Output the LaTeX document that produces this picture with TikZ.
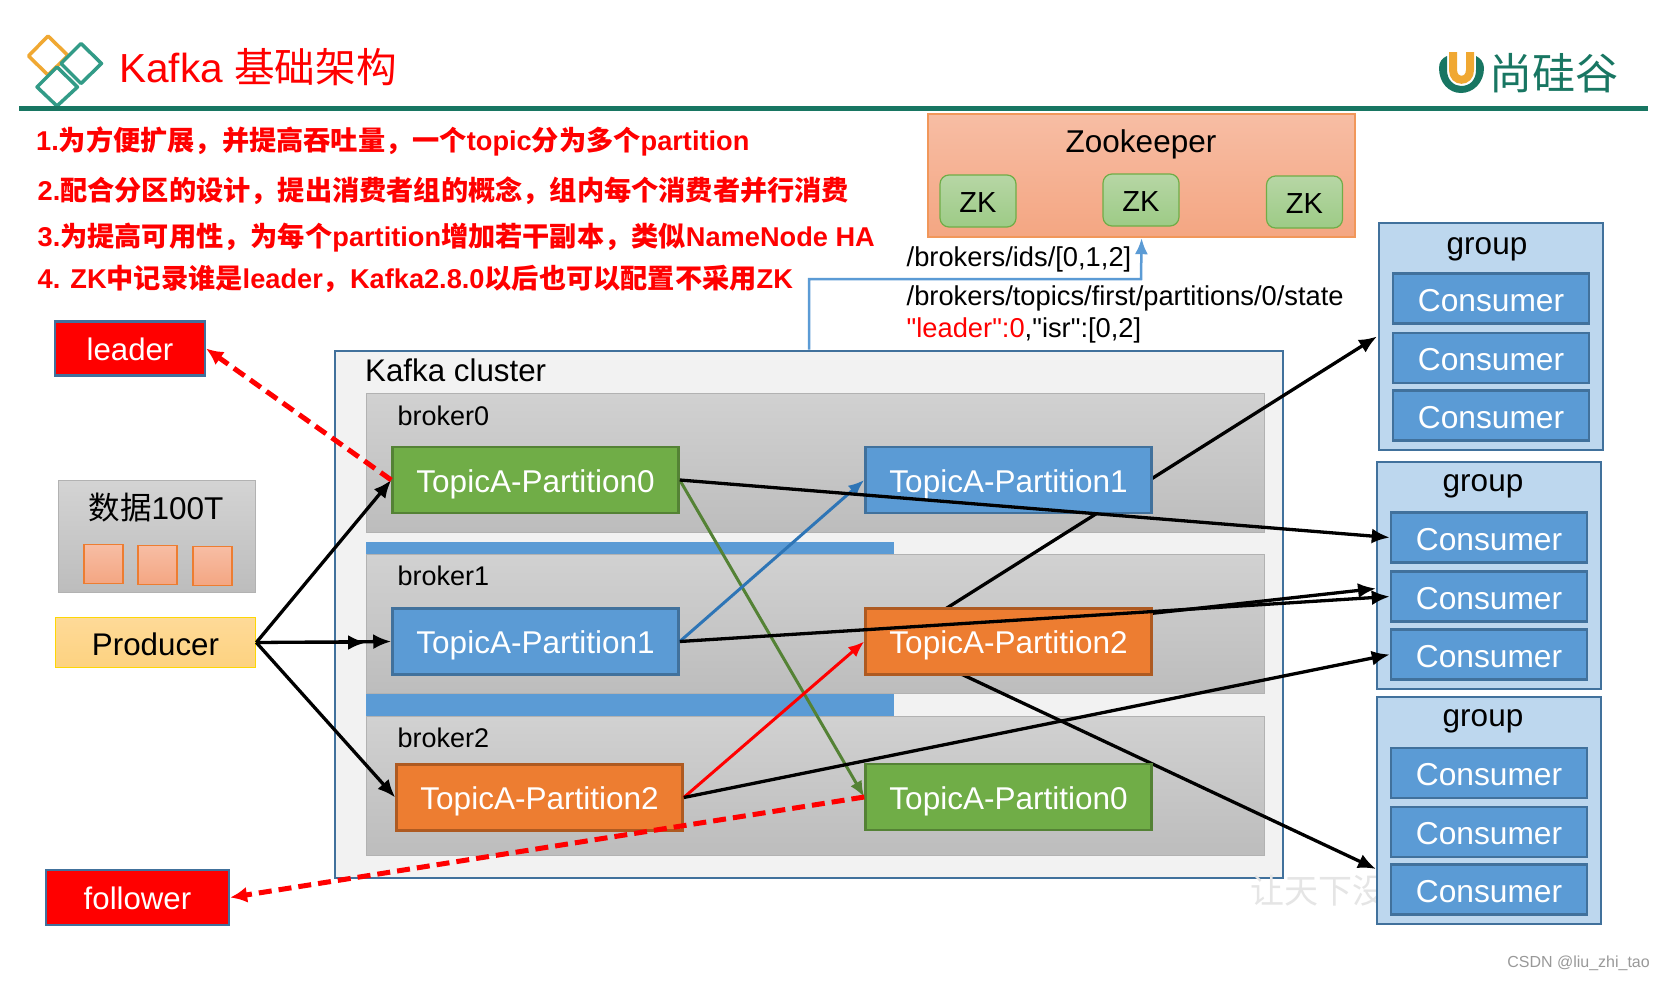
\documentclass[tikz,border=0pt]{standalone}
\usepackage{fontspec}
\setmainfont{Liberation Sans}
\newfontfamily\rawfont{Liberation Sans}
\newfontfamily\cjk{Noto Sans CJK SC}
\usetikzlibrary{arrows.meta}
\definecolor{headgreen}{RGB}{24,118,98}
\definecolor{tealdia}{RGB}{50,155,135}
\definecolor{golddia}{RGB}{240,168,50}
\definecolor{edgeblue}{RGB}{65,113,156}
\definecolor{fillblue}{RGB}{91,155,213}
\definecolor{paleblue}{RGB}{189,215,238}
\definecolor{fillgreen}{RGB}{112,173,71}
\definecolor{edgegreen}{RGB}{84,130,53}
\definecolor{fillorange}{RGB}{237,125,49}
\definecolor{edgeorange}{RGB}{174,90,33}
\definecolor{zklight}{RGB}{183,214,165}
\definecolor{zkdark}{RGB}{157,203,134}
\definecolor{salmonlight}{RGB}{247,189,164}
\definecolor{salmondark}{RGB}{244,166,130}
\definecolor{prodlight}{RGB}{254,218,152}
\definecolor{proddark}{RGB}{253,210,128}
\definecolor{arrowblue}{RGB}{46,117,182}
\newcommand{\fs}[1]{\fontsize{#1}{#1}\selectfont}
\newcommand{\zh}[1]{{\cjk #1}}
\tikzset{
  box/.style={draw,rectangle,anchor=north west,inner sep=0pt,line width=2.2pt},
  part/.style={draw,rectangle,line width=2.5pt,inner sep=0pt,text=white,font=\fs{31.5},minimum width=286pt,minimum height=66pt,text height=24pt,text depth=0pt},
  cons/.style={draw=edgeblue,fill=fillblue,rectangle,line width=2.5pt,inner sep=0pt,text=white,font=\fs{31.7},minimum width=196pt,minimum height=50pt,text height=25.5pt,text depth=0pt},
  tag/.style={draw=edgeblue,fill=red,rectangle,line width=2.2pt,inner sep=0pt,text=white,font=\fs{31.2},text height=24pt,text depth=0pt},
  grp/.style={draw=edgeblue,fill=paleblue,rectangle,anchor=north west,line width=2.2pt,inner sep=0pt,minimum width=224pt,minimum height=227pt},
  grplab/.style={font=\fs{31.5}},
  brk/.style={draw=black!30,top color=black!18,bottom color=black!26,rectangle,anchor=north west,line width=1.2pt,inner sep=0pt,minimum width=898pt,minimum height=139pt},
  zk/.style={draw=fillgreen,top color=zklight,bottom color=zkdark,rectangle,rounded corners=9pt,line width=1.2pt,inner sep=0pt,minimum width=76pt,minimum height=52pt,font=\fs{29},text height=23.5pt,text depth=0pt},
  sq/.style={draw=fillorange,top color=salmonlight,bottom color=salmondark,rectangle,line width=1.2pt,inner sep=0pt,minimum width=39pt,minimum height=39pt},
  blk/.style={-{Latex[length=18pt,width=15pt]},line width=3.3pt,black},
  dsh/.style={-{Latex[length=17pt,width=16pt]},line width=5pt,red,dash pattern=on 13pt off 7pt},
  slim/.style={-{Latex[length=16pt,width=13pt]},line width=3pt},
  hd/.style={anchor=west,red,font=\fs{27.2}\bfseries,inner sep=0pt},
  plain/.style={anchor=west,inner sep=0pt,font=\fs{27.3}},
  brklab/.style={anchor=west,inner sep=0pt,font=\fs{27}}
}
\begin{document}
\begin{tikzpicture}[x=1pt,y=-1pt]
\useasboundingbox (0,0) rectangle (1665,980);
% header
\fill[white] (0,0) rectangle (1665,980);
\draw[golddia,line width=3.5pt,line join=round] (48,36)--(68,55.5)--(48,75)--(28.5,56)--cycle;
\draw[tealdia,line width=3.5pt,line join=round] (81,43.5)--(101.5,63.5)--(81,83.5)--(61,63.5)--cycle;
\draw[tealdia,line width=3.5pt,line join=round] (57,67)--(77.5,87)--(57,106)--(37,87)--cycle;
\fill[headgreen] (19,105.5) rectangle (1648,111);
\node[anchor=west,red,inner sep=0pt,font=\fs{40.6}] (title) at (119,67.5) {Kafka \zh{基础架构}};
\fill[headgreen] (1439,68) .. controls (1439,83) and (1449,93) .. (1461,93) .. controls (1473,93) and (1484,83) .. (1484,68) .. controls (1484,62) and (1480,58) .. (1476,56) -- (1476,70) .. controls (1476,80) and (1470,86) .. (1461,86) .. controls (1454,86) and (1447,80) .. (1447,70) -- (1447,56) .. controls (1442,58) and (1439,62) .. (1439,68) -- cycle;
\draw[golddia,line width=8pt] (1453,52) -- (1453,70) .. controls (1453,83) and (1470,83) .. (1470,70) -- (1470,52);
\node[anchor=west,headgreen,inner sep=0pt,font=\fs{43}\cjk] (brand) at (1489,73) {尚硅谷};
% notes
\node[hd] (note1) at (36,141.5) {1.\zh{为方便扩展，并提高吞吐量，一个}topic\zh{分为多个}partition};
\node[hd] (note2) at (37.5,191) {2.\zh{配合分区的设计，提出消费者组的概念，组内每个消费者并行消费}};
\node[hd] (note3) at (37.5,238) {3.\zh{为提高可用性，为每个}partition\zh{增加若干副本，类似}NameNode HA};
\node[hd] (note4) at (37.5,279) {4. ZK\zh{中记录谁是}leader\zh{，}Kafka2.8.0\zh{以后也可以配置不采用}ZK};
% zookeeper
\node[box,draw=fillorange!80,top color=salmonlight,bottom color=salmondark,minimum width=427pt,minimum height=123pt] (zoo) at (927,113) {};
\node[font=\fs{31.5}] (zoolab) at (1141,144) {Zookeeper};
\node[zk] (zk1) at (978,201) {ZK};
\node[zk] (zk2) at (1141,200) {ZK};
\node[zk] (zk3) at (1304.5,202) {ZK};
\node[plain] (ids) at (906.5,259) {/brokers/ids/[0,1,2]};
\node[plain] (state) at (906.5,298) {/brokers/topics/first/partitions/0/state};
\node[plain] (isr) at (906.5,330) {\rawfont\textcolor{red}{"leader":0},"isr":[0,2]};
% kafka cluster
\node[box,draw=edgeblue,fill=black!5,minimum width=948pt,minimum height=527pt] (cluster) at (333.5,349.5) {};
\node[anchor=west,inner sep=0pt,font=\fs{31.3}] (clusterlab) at (365,370.5) {Kafka cluster};
\coordinate (topout) at (809,349.5);
\coordinate (elbow) at (1141,279);
\draw[fillblue,slim,line width=2.5pt] (topout) |- (elbow) -- (zoo.south);
% brokers
\fill[fillblue] (366,542) rectangle (894,556);
\fill[fillblue] (366,692) rectangle (894,717);
\node[brk] (brk0) at (366,392.5) {};
\node[brk] (brk1) at (366,554) {};
\node[brk] (brk2) at (366,715.5) {};
\node[brklab] (brk0lab) at (397.5,416) {broker0};
\node[brklab] (brk1lab) at (397.5,576) {broker1};
\node[brklab] (brk2lab) at (397.5,737.5) {broker2};
% consumer groups
\node[font=\fs{34},black!10,anchor=west,inner sep=0pt] (mark) at (1250,891) {\cjk 让天下没};
\node[grp] (g1) at (1377.5,222) {};
\node[grp] (g2) at (1375.5,461) {};
\node[grp] (g3) at (1375.5,696) {};
\node[grplab] (g1lab) at (1487,249.5) {group};
\node[grplab] (g2lab) at (1483,486) {group};
\node[grplab] (g3lab) at (1483,721) {group};
\node[cons] (c11) at (1491,298.5) {Consumer};
\node[cons] (c12) at (1491,358) {Consumer};
\node[cons] (c13) at (1491,415.5) {Consumer};
\node[cons] (c21) at (1489,537.5) {Consumer};
\node[cons] (c22) at (1489,596.5) {Consumer};
\node[cons] (c23) at (1489,654.5) {Consumer};
\node[cons] (c31) at (1489,773) {Consumer};
\node[cons] (c32) at (1489,832) {Consumer};
\node[cons] (c33) at (1489,889.5) {Consumer};
% lines behind the partitions
\coordinate (r2in) at (893,642);
\coordinate (g1in) at (1377,336.5);
\coordinate (g2in) at (1376,588.5);
\coordinate (g3in) at (1376,869);
\draw[blk] (r2in) -- (g1in);
\draw[blk] (r2in) -- (g2in);
\draw[blk] (r2in) -- (g3in);
% partitions
\node[part,draw=edgegreen,fill=fillgreen] (p0) at (535.5,480) {TopicA-Partition0};
\node[part,draw=edgeblue,fill=fillblue] (p1) at (535.5,641.5) {TopicA-Partition1};
\node[part,draw=edgeorange,fill=fillorange] (p2) at (539.5,797.5) {TopicA-Partition2};
\node[part,draw=edgeblue,fill=fillblue] (r1) at (1008.5,480) {TopicA-Partition1};
\node[part,draw=edgeorange,fill=fillorange] (r2) at (1008.5,641.5) {TopicA-Partition2};
\node[part,draw=edgegreen,fill=fillgreen] (r0) at (1008.5,797) {TopicA-Partition0};
% left side
\node[box,draw=black!30,line width=1.2pt,top color=black!17,bottom color=black!26,minimum width=197pt,minimum height=111.5pt] (data) at (58,480) {};
\node[font=\fs{31.5}] (datalab) at (156,507.5) {\zh{数据}100T};
\node[sq] (s1) at (103.5,564) {};
\node[sq] (s2) at (157.5,565) {};
\node[sq] (s3) at (212.5,566) {};
\node[draw=yellow!75!orange,top color=prodlight,bottom color=proddark,rectangle,line width=1.6pt,inner sep=0pt,minimum width=200pt,minimum height=50pt,font=\fs{31.3},text height=26pt,text depth=0pt] (prod) at (155.5,642.5) {Producer};
\node[tag,minimum width=150pt,minimum height=54pt] (leader) at (130,348.5) {leader};
\node[tag,minimum width=183pt,minimum height=55pt] (follower) at (137.5,897.5) {follower};
% connectors
\draw[blk] (prod.east) -- (p0.west);
\draw[blk] (prod.east) -- (brk1.west|-prod.east);
\draw[blk] (prod.east) -- (p1.west);
\draw[blk] (prod.east) -- (p2.west);
\draw[edgegreen,slim] (p0.east) -- (r0.west);
\draw[arrowblue,slim] (p1.east) -- (r1.west);
\draw[red,slim] (p2.east) -- (r2.west);
\draw[blk] (p0.east) -- (c21.west);
\draw[blk] (p1.east) -- (c22.west);
\draw[blk] (p2.east) -- (c23.west);
\draw[dsh] (p0.west) -- (leader.east);
\draw[dsh] (r0.west) -- (follower.east);
\node[anchor=east,black!40,inner sep=0pt,font=\fs{16}] (csdn) at (1650,963) {CSDN @liu\_zhi\_tao};
\end{tikzpicture}
\end{document}
